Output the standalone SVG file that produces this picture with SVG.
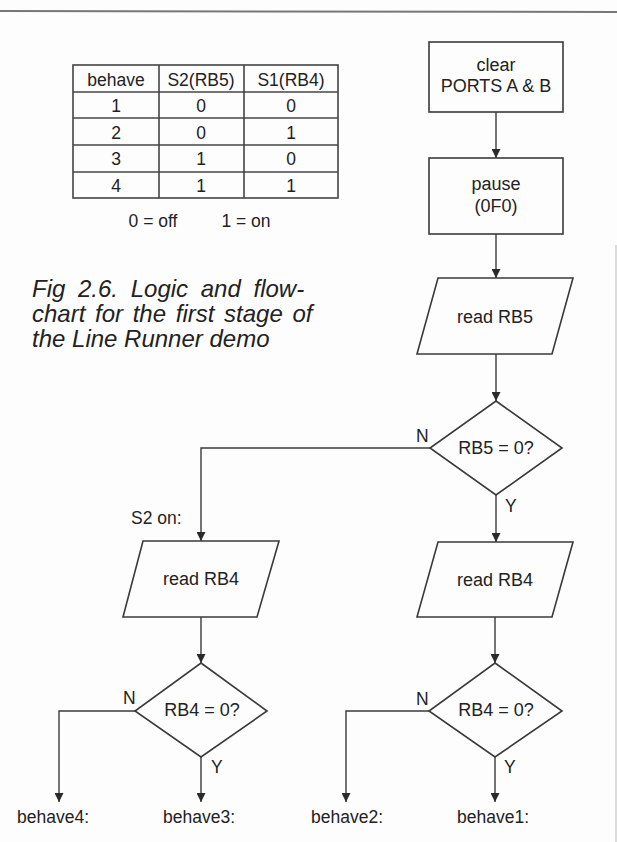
<svg xmlns="http://www.w3.org/2000/svg" width="617" height="842" viewBox="0 0 617 842">
<style>
.bg{fill:#fdfdfd}
.sh{fill:none;stroke:#3a3a3a;stroke-width:1.6}
.ln{fill:none;stroke:#3a3a3a;stroke-width:1.4}
.tb{fill:none;stroke:#444;stroke-width:1.6}
text{font-family:"Liberation Sans",Arial,sans-serif;fill:#222}
.t{font-size:18px;text-anchor:middle}
.tt{font-size:17.5px;text-anchor:middle}
.lb{font-size:17.5px}
.cap{font-size:24px;font-style:italic}
</style>
<defs>
<marker id="ah" viewBox="0 0 10 10" refX="10" refY="5" markerWidth="9" markerHeight="9" markerUnits="userSpaceOnUse" orient="auto">
<path d="M0,0 L10,5 L0,10 Z" fill="#2a2a2a"/>
</marker>
</defs>
<rect class="bg" x="0" y="0" width="617" height="842"/>
<line x1="0" y1="11" x2="617" y2="12" stroke="#777" stroke-width="2"/>
<line x1="616" y1="245" x2="616" y2="842" stroke="#bbb" stroke-width="1"/>

<g id="table">
<rect class="tb" x="73" y="65" width="265" height="133"/>
<line class="tb" x1="159" y1="65" x2="159" y2="198"/>
<line class="tb" x1="244" y1="65" x2="244" y2="198"/>
<line class="tb" x1="73" y1="92" x2="338" y2="92"/>
<line class="tb" x1="73" y1="118" x2="338" y2="118"/>
<line class="tb" x1="73" y1="145" x2="338" y2="145"/>
<line class="tb" x1="73" y1="172" x2="338" y2="172"/>
<text class="tt" x="116" y="86">behave</text>
<text class="tt" x="201" y="86">S2(RB5)</text>
<text class="tt" x="291" y="86">S1(RB4)</text>
<text class="tt" x="116" y="112">1</text><text class="tt" x="201" y="112">0</text><text class="tt" x="291" y="112">0</text>
<text class="tt" x="116" y="139">2</text><text class="tt" x="201" y="139">0</text><text class="tt" x="291" y="139">1</text>
<text class="tt" x="116" y="165">3</text><text class="tt" x="201" y="165">1</text><text class="tt" x="291" y="165">0</text>
<text class="tt" x="116" y="192">4</text><text class="tt" x="201" y="192">1</text><text class="tt" x="291" y="192">1</text>
<text class="tt" x="153" y="227">0 = off</text>
<text class="tt" x="246" y="227">1 = on</text>
</g>

<g id="caption">
<text class="cap" x="32" y="297" word-spacing="6">Fig 2.6. Logic and flow-</text>
<text class="cap" x="32" y="322" word-spacing="3">chart for the first stage of</text>
<text class="cap" x="32" y="347">the Line Runner demo</text>
</g>

<g id="clear">
<rect class="sh" x="429" y="42" width="134" height="70"/>
<text class="t" x="496" y="71">clear</text>
<text class="t" x="496" y="92">PORTS A &amp; B</text>
</g>
<g id="pause">
<rect class="sh" x="429" y="158" width="134" height="76"/>
<text class="t" x="496" y="190">pause</text>
<text class="t" x="496" y="212">(0F0)</text>
</g>
<g id="readRB5">
<polygon class="sh" points="438,278 573,278 552,354 417,354"/>
<text class="t" x="495" y="323">read RB5</text>
</g>
<g id="decRB5">
<polygon class="sh" points="496,401 562,448 496,495 430,448"/>
<text class="t" x="496" y="454">RB5 = 0?</text>
</g>
<g id="readRB4L">
<polygon class="sh" points="143,541 279,541 257,617 123,617"/>
<text class="t" x="201" y="585">read RB4</text>
</g>
<g id="readRB4R">
<polygon class="sh" points="438,542 573,542 552,617 417,617"/>
<text class="t" x="495" y="586">read RB4</text>
</g>
<g id="decRB4L">
<polygon class="sh" points="201,663 267,711 201,757 135,711"/>
<text class="t" x="202" y="716">RB4 = 0?</text>
</g>
<g id="decRB4R">
<polygon class="sh" points="495,663 562,711 495,757 429,711"/>
<text class="t" x="496" y="716">RB4 = 0?</text>
</g>
<g id="labels">
<text class="lb" x="131" y="524">S2 on:</text>
<text class="lb" x="416" y="442">N</text>
<text class="lb" x="505" y="512">Y</text>
<text class="lb" x="123" y="704">N</text>
<text class="lb" x="211" y="773">Y</text>
<text class="lb" x="416" y="705">N</text>
<text class="lb" x="504" y="773">Y</text>
<text class="lb" x="17" y="823">behave4:</text>
<text class="lb" x="163" y="823">behave3:</text>
<text class="lb" x="311" y="823">behave2:</text>
<text class="lb" x="457" y="823">behave1:</text>
</g>

<g id="connectors">
<line class="ln" x1="496" y1="112" x2="496" y2="158" marker-end="url(#ah)"/>
<line class="ln" x1="496" y1="234" x2="496" y2="278" marker-end="url(#ah)"/>
<line class="ln" x1="496" y1="354" x2="496" y2="401" marker-end="url(#ah)"/>
<polyline class="ln" points="430,448 201,448 201,541" marker-end="url(#ah)"/>
<line class="ln" x1="496" y1="495" x2="496" y2="542" marker-end="url(#ah)"/>
<line class="ln" x1="201" y1="617" x2="201" y2="663" marker-end="url(#ah)"/>
<line class="ln" x1="495" y1="617" x2="495" y2="663" marker-end="url(#ah)"/>
<polyline class="ln" points="135,711 59,711 59,802" marker-end="url(#ah)"/>
<line class="ln" x1="201" y1="757" x2="201" y2="802" marker-end="url(#ah)"/>
<polyline class="ln" points="429,711 346,711 346,802" marker-end="url(#ah)"/>
<line class="ln" x1="495" y1="757" x2="495" y2="802" marker-end="url(#ah)"/>
</g>
</svg>
